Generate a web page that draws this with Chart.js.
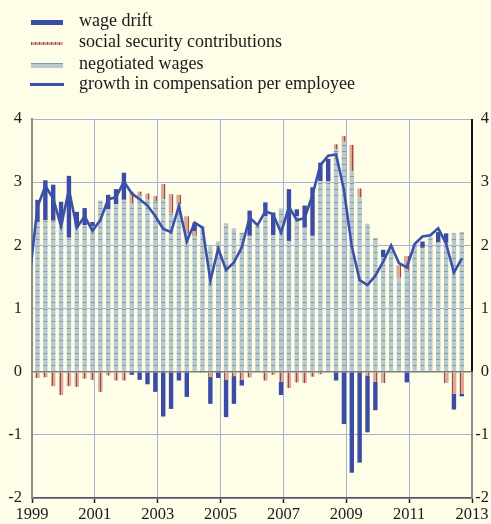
<!DOCTYPE html>
<html>
<head>
<meta charset="utf-8">
<script src="https://cdn.jsdelivr.net/npm/chart.js@4.4.1/dist/chart.umd.min.js"></script>
<style>
  html, body { margin: 0; padding: 0; background: #fefde8; }
  #wrap { position: relative; width: 491px; height: 524px; overflow: hidden; }
  #chart { position: absolute; left: 0; top: 0; }
  .swatch { position: absolute; left: 31px; width: 32px; }
  .label { position: absolute; left: 79px; font-family: 'Liberation Serif', serif; font-size: 18px; line-height: 20px; color: #1a1a1a; white-space: nowrap; }
</style>
</head>
<body>
<div id="wrap">
  <canvas id="chart" width="491" height="524"></canvas>

  <!-- legend -->
  <div class="swatch" style="top:19.5px;height:5px;background:#3a4ca6"></div>
  <div class="label" style="top:9.6px">wage drift</div>
  <div class="swatch" style="top:41.5px;height:3.5px;background:repeating-linear-gradient(to right,#a4473a 0 1px,#d7aa9b 1px 4px)"></div>
  <div class="label" style="top:31.1px">social security contributions</div>
  <div class="swatch" style="top:62.5px;height:5px;background:#b9c9cd;border-top:1.5px solid #7f99a5;box-sizing:border-box"></div>
  <div class="label" style="top:52.8px">negotiated wages</div>
  <div class="swatch" style="left:30px;width:34px;top:83px;height:2.6px;background:#3b50a8"></div>
  <div class="label" style="top:72.8px">growth in compensation per employee</div>
</div>
<script>
// quarters 1998Q4 .. 2012Q3 (the first one only carries the line)
const quarters = [];
for (let y = 1998; y <= 2012; y++) {
    for (let q = 1; q <= 4; q++) {
        if ((y === 1998 && q < 4) || (y === 2012 && q > 3)) continue;
        quarters.push(y + 'Q' + q);
    }
}

const xTicks = [1999, 2001, 2003, 2005, 2007, 2009, 2011, 2013];
const yTicks = [-2, -1, 0, 1, 2, 3, 4];

// negotiated wages
const negotiatedWages = [null,
    2.37, 2.40, 2.39, 2.36,   // 1999
    2.12, 2.30, 2.32, 2.30,   // 2000
    2.71, 2.57, 2.65, 2.72,   // 2001
    2.66, 2.80, 2.72, 2.70,   // 2002
    2.73, 2.51, 2.65, 2.19,   // 2003
    2.15, 2.30, 1.98, 2.06,   // 2004
    2.35, 2.27, 2.20, 2.15,   // 2005
    2.31, 2.46, 2.16, 2.58,   // 2006
    2.07, 2.46, 2.28, 2.15,   // 2007
    3.02, 3.01, 3.52, 3.64,   // 2008
    3.17, 2.76, 2.34, 2.12,   // 2009
    1.81, 2.00, 1.49, 1.60,   // 2010
    2.02, 1.96, 2.14, 2.03,   // 2011
    2.04, 2.19, 2.21];        // 2012

// social security contributions
const socialSecurity = [null,
    -0.10, -0.09, -0.23, -0.37,
    -0.23, -0.24, -0.11, -0.13,
    -0.32, -0.06, -0.14, -0.14,
    0.19, 0.05, 0.10, 0.08,
    0.24, 0.30, 0.15, 0.27,
    0.07, -0.02, -0.08, 0,
    -0.13, -0.07, -0.13, -0.09,
    0, -0.14, -0.05, -0.16,
    -0.26, -0.17, -0.18, -0.08,
    -0.04, 0, 0.08, 0.09,
    0.42, 0.14, -0.06, -0.16,
    -0.18, 0, 0.20, 0.23,
    0, 0, 0, 0.02,
    -0.18, -0.35, -0.35];

// wage drift
const wageDrift = [null,
    0.35, 0.63, 0.57, 0.33,
    0.98, 0.23, 0.27, 0.07,
    0, 0.23, 0.24, 0.43,
    -0.05, -0.13, -0.20, -0.32,
    -0.71, -0.59, -0.14, -0.40,
    0.14, 0, -0.43, -0.10,
    -0.59, -0.44, -0.09, 0.40,
    0, 0.22, 0.36, -0.21,
    0.82, 0.11, 0.35, 0.77,
    0.29, 0.36, -0.14, -0.83,
    -1.60, -1.44, -0.90, -0.45,
    0.12, 0, 0, -0.17,
    -0.01, 0.10, 0, 0.16,
    0.15, -0.25, -0.04];

// growth in compensation per employee
const compensation = [1.50,
    2.61, 2.94, 2.74, 2.30,
    2.88, 2.28, 2.46, 2.23,
    2.40, 2.73, 2.76, 3.01,
    2.82, 2.73, 2.63, 2.46,
    2.26, 2.21, 2.62, 2.06,
    2.36, 2.28, 1.44, 1.95,
    1.61, 1.73, 1.97, 2.44,
    2.32, 2.54, 2.49, 2.20,
    2.61, 2.40, 2.43, 2.80,
    3.27, 3.42, 3.44, 2.88,
    1.98, 1.45, 1.37, 1.52,
    1.74, 2.00, 1.72, 1.65,
    2.02, 2.14, 2.16, 2.27,
    2.03, 1.57, 1.79];

function quarterX(label) {
    const year = +label.slice(0, 4);
    const q = +label.slice(5);
    return year + (q - 0.3) / 4;
}

function points(values) {
    const out = [];
    values.forEach((v, i) => {
        if (v !== null) out.push({ x: quarterX(quarters[i]), y: v });
    });
    return out;
}

// hatched fills
function negotiatedPattern(ctx) {
    const c = document.createElement('canvas');
    c.width = 4; c.height = 63;
    const g = c.getContext('2d');
    g.fillStyle = '#b9c9cd';
    g.fillRect(0, 0, 4, 63);
    g.fillStyle = '#819ba7';
    for (let k = 0; k < 10; k++) g.fillRect(0, Math.round(k * 6.3), 4, 1);
    return ctx.createPattern(c, 'repeat');
}

function socialPattern(ctx) {
    const c = document.createElement('canvas');
    c.width = 4; c.height = 4;
    const g = c.getContext('2d');
    g.fillStyle = '#d7aa9b';
    g.fillRect(0, 0, 4, 4);
    g.fillStyle = '#a4473a';
    g.fillRect(0, 0, 1, 4);
    return ctx.createPattern(c, 'repeat');
}

const rightAxis = {
    id: 'rightAxis',
    afterDraw(chart) {
        const { ctx, chartArea, scales } = chart;
        const zero = scales.y.getPixelForValue(0);
        ctx.save();
        ctx.lineWidth = 2;
        ctx.strokeStyle = '#111';
        ctx.beginPath();
        ctx.moveTo(chartArea.right, chartArea.top);
        ctx.lineTo(chartArea.right, zero);
        ctx.stroke();
        ctx.strokeStyle = '#8c8c8c';
        ctx.beginPath();
        ctx.moveTo(chartArea.right, zero);
        ctx.lineTo(chartArea.right, chartArea.bottom);
        ctx.stroke();
        ctx.restore();
    }
};

const canvas = document.getElementById('chart');
const context = canvas.getContext('2d');
const tickFont = { family: 'Liberation Serif', size: 16.5 };
const gridColor = '#a9aee0';

const barOpts = { barPercentage: 0.56, categoryPercentage: 1, borderWidth: 0, stack: 'bars' };

new Chart(canvas, {
    type: 'bar',
    data: {
        datasets: [
            Object.assign({ label: 'negotiated wages', data: points(negotiatedWages), backgroundColor: negotiatedPattern(context) }, barOpts),
            Object.assign({ label: 'social security contributions', data: points(socialSecurity), backgroundColor: socialPattern(context) }, barOpts),
            Object.assign({ label: 'wage drift', data: points(wageDrift), backgroundColor: '#3a4ca6' }, barOpts),
            {
                type: 'line',
                label: 'growth in compensation per employee',
                data: points(compensation),
                borderColor: '#3b50a8',
                borderWidth: 2.6,
                pointRadius: 0,
                tension: 0,
                fill: false,
                stack: 'line',
                order: -1
            }
        ]
    },
    options: {
        responsive: false,
        animation: false,
        layout: { padding: { top: 119, right: 2 } },
        plugins: {
            legend: { display: false },
            tooltip: { enabled: false }
        },
        scales: {
            x: {
                type: 'linear',
                min: xTicks[0],
                max: xTicks[xTicks.length - 1],
                stacked: true,
                offset: false,
                afterFit: s => { s.height = 26; },
                afterBuildTicks: s => { s.ticks = xTicks.map(v => ({ value: v })); },
                grid: { color: gridColor, lineWidth: 1, tickColor: '#222', tickLength: 5, tickWidth: 1.5, offset: false },
                border: { color: '#555', width: 1.5 },
                ticks: { autoSkip: false, maxRotation: 0, padding: 2, color: '#1a1a1a', font: tickFont, callback: v => String(v) }
            },
            y: {
                stacked: true,
                position: 'left',
                min: yTicks[0],
                max: yTicks[yTicks.length - 1],
                afterFit: s => { s.width = 32; },
                afterBuildTicks: s => { s.ticks = yTicks.map(v => ({ value: v })); },
                grid: {
                    color: c => c.tick && c.tick.value === 0 ? '#7c7c7c' : gridColor,
                    lineWidth: c => c.tick && c.tick.value === 0 ? 1.5 : 1,
                    drawTicks: false
                },
                border: { color: '#8c8c8c', width: 2 },
                ticks: { padding: 10, color: '#1a1a1a', font: tickFont }
            },
            y2: {
                position: 'right',
                min: yTicks[0],
                max: yTicks[yTicks.length - 1],
                afterFit: s => { s.width = 17; },
                afterBuildTicks: s => { s.ticks = yTicks.map(v => ({ value: v })); },
                grid: { drawOnChartArea: false, drawTicks: false },
                border: { display: false },
                ticks: { padding: 0, crossAlign: 'far', color: '#1a1a1a', font: tickFont }
            }
        }
    },
    plugins: [rightAxis]
});
</script>
</body>
</html>
